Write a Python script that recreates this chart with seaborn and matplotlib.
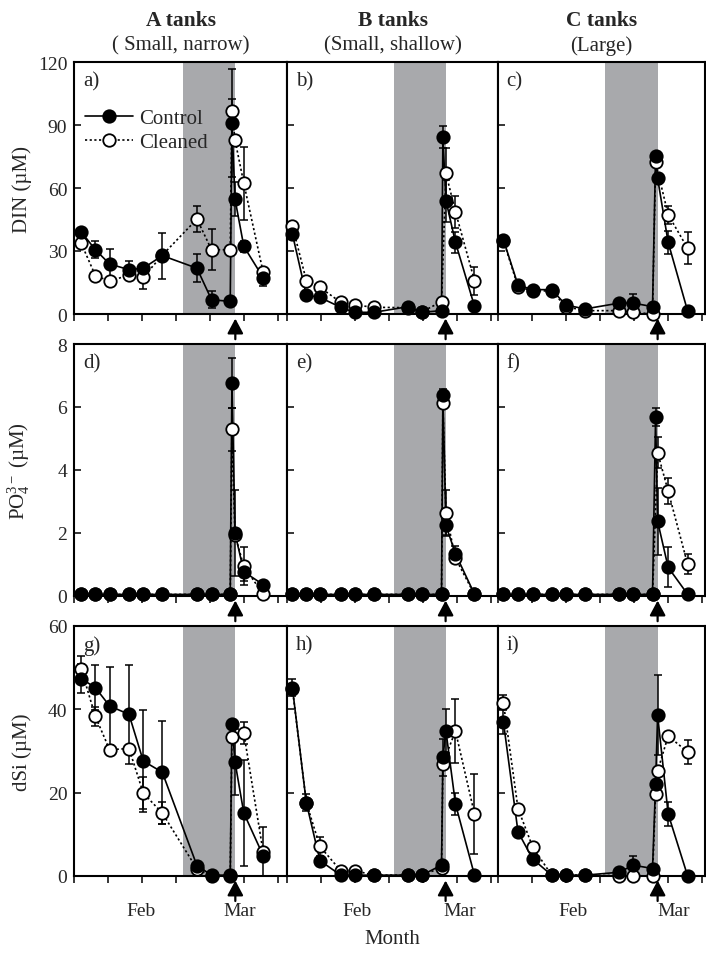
import numpy as np
import pandas as pd
import matplotlib
matplotlib.use("Agg")
import matplotlib.pyplot as plt
import seaborn as sns
from matplotlib.lines import Line2D

sns.set_theme(style="ticks")
plt.rcParams["font.family"] = ["Liberation Serif", "DejaVu Serif"]
plt.rcParams["mathtext.fontset"] = "custom"
plt.rcParams["mathtext.rm"] = "Liberation Serif"
plt.rcParams["mathtext.it"] = "Liberation Serif:italic"
plt.rcParams["mathtext.bf"] = "Liberation Serif:bold"

nan = np.nan

# ---------------- data ----------------
# sampling days (days since start of x axis) for each tank type
days_A = [2.0, 6.2, 10.4, 16.1, 20.3, 25.9, 36.1, 40.4, 45.9, 46.4, 47.3, 49.9, 55.6]
days_B = [1.5, 5.6, 9.6, 15.7, 19.8, 25.5, 35.6, 39.6, 45.4, 45.8, 46.7, 49.5, 55.1]
days_C = [1.5, 5.8, 10.1, 15.7, 19.9, 25.5, 35.6, 39.7, 45.4, 46.3, 46.9, 50.0, 55.7]

# cleaning period (shaded) and cleaning event (arrow)
shade_A = (32.0, 47.4)
shade_B = (31.3, 46.6)
shade_C = (31.5, 46.9)

# DIN (uM)
din_A_ctrl = [39.2, 30.6, 23.8, 21.1, 21.8, 27.8, 21.8, 6.8, 6.0, 91.0, 54.8, 32.2, 17.3]
din_A_ctrl_err = [0, 4, 7, 4.3, 0, 11, 6.7, 4, 0, 25.7, 8, 2.7, 4]
din_A_clean = [33.8, 18.3, 15.6, 18.6, 17.5, 28.0, 45.2, 30.6, 30.6, 96.8, 82.9, 62.2, 19.8]
din_A_clean_err = [0, 0, 0, 0, 5.5, 0, 6.3, 9.8, 0, 5.5, 0, 17.5, 2]

din_B_ctrl = [38.1, 9.0, 7.9, 3.2, 0.8, 0.8, 3.5, 0.8, 1.6, 84.1, 54.0, 34.1, 3.7]
din_B_ctrl_err = [0, 0, 0, 0, 0, 0, 0, 0, 0, 5.2, 10, 5, 0]
din_B_clean = [42.0, 15.9, 12.7, 5.6, 4.3, 3.2, 3.0, 1.0, 5.9, nan, 67.0, 48.7, 15.9]
din_B_clean_err = [0, 0, 0, 0, 0, 0, 0, 0, 0, 0, 11.9, 7.6, 6.7]

din_C_ctrl = [35.4, 13.8, 11.6, 11.6, 4.3, 2.4, 5.2, 5.2, 3.5, 75.4, 64.6, 34.1, 1.6]
din_C_ctrl_err = [0, 0, 0, 0, 0, 0, 0, 4.3, 0, 0, 0, 5.5, 0]
din_C_clean = [35.0, 13.0, 11.0, 11.0, 3.5, 1.6, 1.6, 0.8, 0.0, 72.2, nan, 47.3, 31.4]
din_C_clean_err = [0, 0, 0, 0, 0, 0, 0, 0, 0, 0, 0, 4.3, 7.6]

# PO4 (uM)
po4_A_ctrl = [0.05, 0.05, 0.05, 0.05, 0.05, 0.05, 0.05, 0.05, 0.05, 6.77, 2.0, 0.77, 0.36]
po4_A_ctrl_err = [0, 0, 0, 0, 0, 0, 0, 0, 0, 0.8, 1.38, 0.3, 0]
po4_A_clean = [0.05, 0.05, 0.05, 0.05, 0.05, 0.05, 0.05, 0.05, 0.05, 5.29, 1.94, 0.94, 0.06]
po4_A_clean_err = [0, 0, 0, 0, 0, 0, 0, 0, 0, 0.69, 0, 0.6, 0]

po4_B_ctrl = [0.05, 0.05, 0.05, 0.05, 0.05, 0.05, 0.05, 0.05, 0.05, 6.38, 2.24, 1.34, 0.06]
po4_B_ctrl_err = [0, 0, 0, 0, 0, 0, 0, 0, 0, 0.2, 0.3, 0.25, 0]
po4_B_clean = [0.05, 0.05, 0.05, 0.05, 0.05, 0.05, 0.05, 0.05, 0.05, 6.12, 2.63, 1.2, 0.05]
po4_B_clean_err = [0, 0, 0, 0, 0, 0, 0, 0, 0, 0, 0.72, 0.15, 0]

po4_C_ctrl = [0.05, 0.05, 0.05, 0.05, 0.05, 0.05, 0.05, 0.05, 0.05, 5.69, 2.37, 0.91, 0.06]
po4_C_ctrl_err = [0, 0, 0, 0, 0, 0, 0, 0, 0, 0.29, 1.06, 0.64, 0]
po4_C_clean = [0.05, 0.05, 0.05, 0.05, 0.05, 0.05, 0.05, 0.05, 0.05, nan, 4.55, 3.33, 1.02]
po4_C_clean_err = [0, 0, 0, 0, 0, 0, 0, 0, 0, 0, 0.5, 0.42, 0.32]

# dSi (uM)
dsi_A_ctrl = [47.4, 45.2, 40.8, 38.8, 27.6, 24.9, 2.5, 0.2, 0.2, 36.5, 27.4, 15.1, 4.9]
dsi_A_ctrl_err = [3.4, 5.4, 9.4, 11.8, 12.2, 12.4, 0, 0, 0, 0, 8, 12.8, 6.8]
dsi_A_clean = [49.8, 38.3, 30.3, 30.6, 19.9, 15.1, 1.7, 0.0, 0.0, 33.3, nan, 34.3, 5.7]
dsi_A_clean_err = [3, 2.2, 0, 0, 3.8, 2.6, 0, 0, 0, 0, 0, 2.6, 0]

dsi_B_ctrl = [45.2, 17.6, 3.7, 0.2, 0.2, 0.2, 0.2, 0.2, 2.6, 28.5, 34.8, 17.3, 0.2]
dsi_B_ctrl_err = [2, 2, 0, 0, 0, 0, 0, 0, 0, 4.4, 5.2, 2.6, 0]
dsi_B_clean = [45.0, 17.6, 7.1, 1.3, 1.3, 0.2, 0.2, 0.2, 2.0, 27.0, nan, 34.8, 14.9]
dsi_B_clean_err = [0, 0, 2.2, 0, 0, 0, 0, 0, 0, 0, 0, 7.6, 9.6]

dsi_C_ctrl = [37.0, 10.6, 4.1, 0.2, 0.2, 0.2, 0.9, 2.6, 1.8, 22.1, 38.6, 14.9, 0.1]
dsi_C_ctrl_err = [3, 0, 0, 0, 0, 0, 0, 2.2, 0, 0, 9.6, 2.8, 0]
dsi_C_clean = [41.6, 16.2, 7.0, 0.2, 0.2, 0.2, 0.1, 0.0, 0.0, 19.6, 25.2, 33.6, 29.8]
dsi_C_clean_err = [1.8, 0, 0, 0, 0, 0, 0, 0, 0, 0, 0, 0, 2.9]

col_titles = ["A tanks", "B tanks", "C tanks"]
col_subtitles = ["( Small, narrow)", "(Small, shallow)", "(Large)"]
panel_letters = ["a)", "b)", "c)", "d)", "e)", "f)", "g)", "h)", "i)"]
row_labels = ["DIN (µM)", "PO$_4^{3-}$ (µM)", "dSi (µM)"]
row_ticks = [[0, 30, 60, 90, 120], [0, 2, 4, 6, 8], [0, 20, 40, 60]]
month_labels = ["Feb", "Mar"]
month_pos_A = [19.7, 48.8]
month_pos_B = [20.4, 50.8]
month_pos_C = [22.0, 51.6]

# ---------------- layout ----------------
W, H = 706, 954
fig = plt.figure(figsize=(W / 100, H / 100), dpi=100)

col_left = [74.3, 287.3, 498.3]
col_right = [287.3, 498.3, 704.5]
row_top = [63, 345, 627]
row_bot = [315, 597, 877]
px_per_day = 213.0 / 62.7

days_cols = [days_A, days_B, days_C]
shades = [shade_A, shade_B, shade_C]
month_pos = [month_pos_A, month_pos_B, month_pos_C]
series = [
    [(din_A_ctrl, din_A_ctrl_err, din_A_clean, din_A_clean_err),
     (din_B_ctrl, din_B_ctrl_err, din_B_clean, din_B_clean_err),
     (din_C_ctrl, din_C_ctrl_err, din_C_clean, din_C_clean_err)],
    [(po4_A_ctrl, po4_A_ctrl_err, po4_A_clean, po4_A_clean_err),
     (po4_B_ctrl, po4_B_ctrl_err, po4_B_clean, po4_B_clean_err),
     (po4_C_ctrl, po4_C_ctrl_err, po4_C_clean, po4_C_clean_err)],
    [(dsi_A_ctrl, dsi_A_ctrl_err, dsi_A_clean, dsi_A_clean_err),
     (dsi_B_ctrl, dsi_B_ctrl_err, dsi_B_clean, dsi_B_clean_err),
     (dsi_C_ctrl, dsi_C_ctrl_err, dsi_C_clean, dsi_C_clean_err)],
]

MS = 80  # marker area (pt^2)


def make_df(days, ctrl, ctrl_err, clean, clean_err):
    rows = []
    for trt, vals, errs in (("Cleaned", clean, clean_err), ("Control", ctrl, ctrl_err)):
        for d, v, e in zip(days, vals, errs):
            if not np.isnan(v):
                rows.append(dict(day=d, value=v, err=e, Treatment=trt))
    return pd.DataFrame(rows)


for r in range(3):
    for c in range(3):
        l, rr = col_left[c], col_right[c]
        t, b = row_top[r], row_bot[r]
        ax = fig.add_axes([l / W, 1 - b / H, (rr - l) / W, (b - t) / H])
        xmax = (rr - l) / px_per_day
        ymax = row_ticks[r][-1]

        ax.axvspan(shades[c][0], shades[c][1], color="#a8a9ac", lw=0, zorder=0)

        df = make_df(days_cols[c], *series[r][c])
        sns.lineplot(data=df, x="day", y="value", hue="Treatment", style="Treatment",
                     palette={"Control": "black", "Cleaned": "black"},
                     dashes={"Control": "", "Cleaned": (1.3, 1.5)},
                     estimator=None, sort=False, legend=False, ax=ax,
                     lw=1.2, zorder=2)
        for trt in ("Cleaned", "Control"):
            sub = df[(df.Treatment == trt) & (df.err > 0)]
            if len(sub):
                ax.errorbar(sub.day, sub.value, yerr=sub.err, fmt="none", ecolor="black",
                            elinewidth=1.1, capsize=2.6, capthick=1.1, zorder=2.5)
        sns.scatterplot(data=df[df.Treatment == "Cleaned"], x="day", y="value",
                        color="white", edgecolor="black", linewidth=1.3, s=MS,
                        zorder=3, clip_on=False, ax=ax, legend=False)
        sns.scatterplot(data=df[df.Treatment == "Control"], x="day", y="value",
                        color="black", edgecolor="black", linewidth=1.3, s=MS,
                        zorder=4, clip_on=False, ax=ax, legend=False)

        ax.set_xlim(0, xmax)
        ax.set_ylim(0, ymax)
        ax.set_yticks(row_ticks[r])
        ax.set_xticks(np.arange(0, xmax, 10), minor=True)
        if r == 2:
            ax.set_xticks(month_pos[c])
            ax.set_xticklabels(month_labels)
        else:
            ax.set_xticks([])
        ax.tick_params(axis="x", which="major", length=0, pad=19, labelsize=14)
        ax.tick_params(axis="x", which="minor", direction="out", length=5, width=1.3)
        ax.tick_params(axis="y", direction="in", length=5, width=1.3, pad=5, labelsize=14)
        if c > 0:
            ax.set_yticklabels([])
            ax.set_ylabel("")
        else:
            ax.set_ylabel(row_labels[r], fontsize=15)
            ax.yaxis.set_label_coords(-0.2, 0.5)
        ax.set_xlabel("")
        for s in ax.spines.values():
            s.set_visible(True)
            s.set_linewidth(1.5)
            s.set_color("black")

        ax.text(0.04, 0.925, panel_letters[r * 3 + c], transform=ax.transAxes,
                fontsize=15, ha="left", va="center")

        ax.annotate("", xy=(shades[c][1], -0.018), xycoords=("data", "axes fraction"),
                    xytext=(shades[c][1], -0.1), textcoords=("data", "axes fraction"),
                    arrowprops=dict(arrowstyle="-|>,head_length=0.75,head_width=0.4",
                                    mutation_scale=12, color="black", lw=1.6,
                                    shrinkA=0, shrinkB=0),
                    annotation_clip=False)

        if r == 0 and c == 0:
            handles = [
                Line2D([], [], color="black", lw=1.2, ls="-", marker="o", ms=9,
                       mfc="black", mec="black", mew=1.3),
                Line2D([], [], color="black", lw=1.2, ls=(0, (1.3, 1.5)), marker="o", ms=9,
                       mfc="white", mec="black", mew=1.3),
            ]
            ax.legend(handles, ["Control", "Cleaned"], loc="upper left",
                      bbox_to_anchor=(0.05, 0.815), frameon=False, fontsize=15,
                      handlelength=2.3, handletextpad=0.3, labelspacing=0.2,
                      borderpad=0, borderaxespad=0)

        if r == 0:
            cx = (l + rr) / 2 / W
            fig.text(cx, 1 - 21 / H, col_titles[c], ha="center", va="center",
                     fontsize=15.5, fontweight="bold")
            fig.text(cx, 1 - 46 / H, col_subtitles[c], ha="center", va="center",
                     fontsize=15)

fig.text(392 / W, 1 - 940 / H, "Month", ha="center", va="center", fontsize=15)

fig.savefig("out.png", dpi=100)
